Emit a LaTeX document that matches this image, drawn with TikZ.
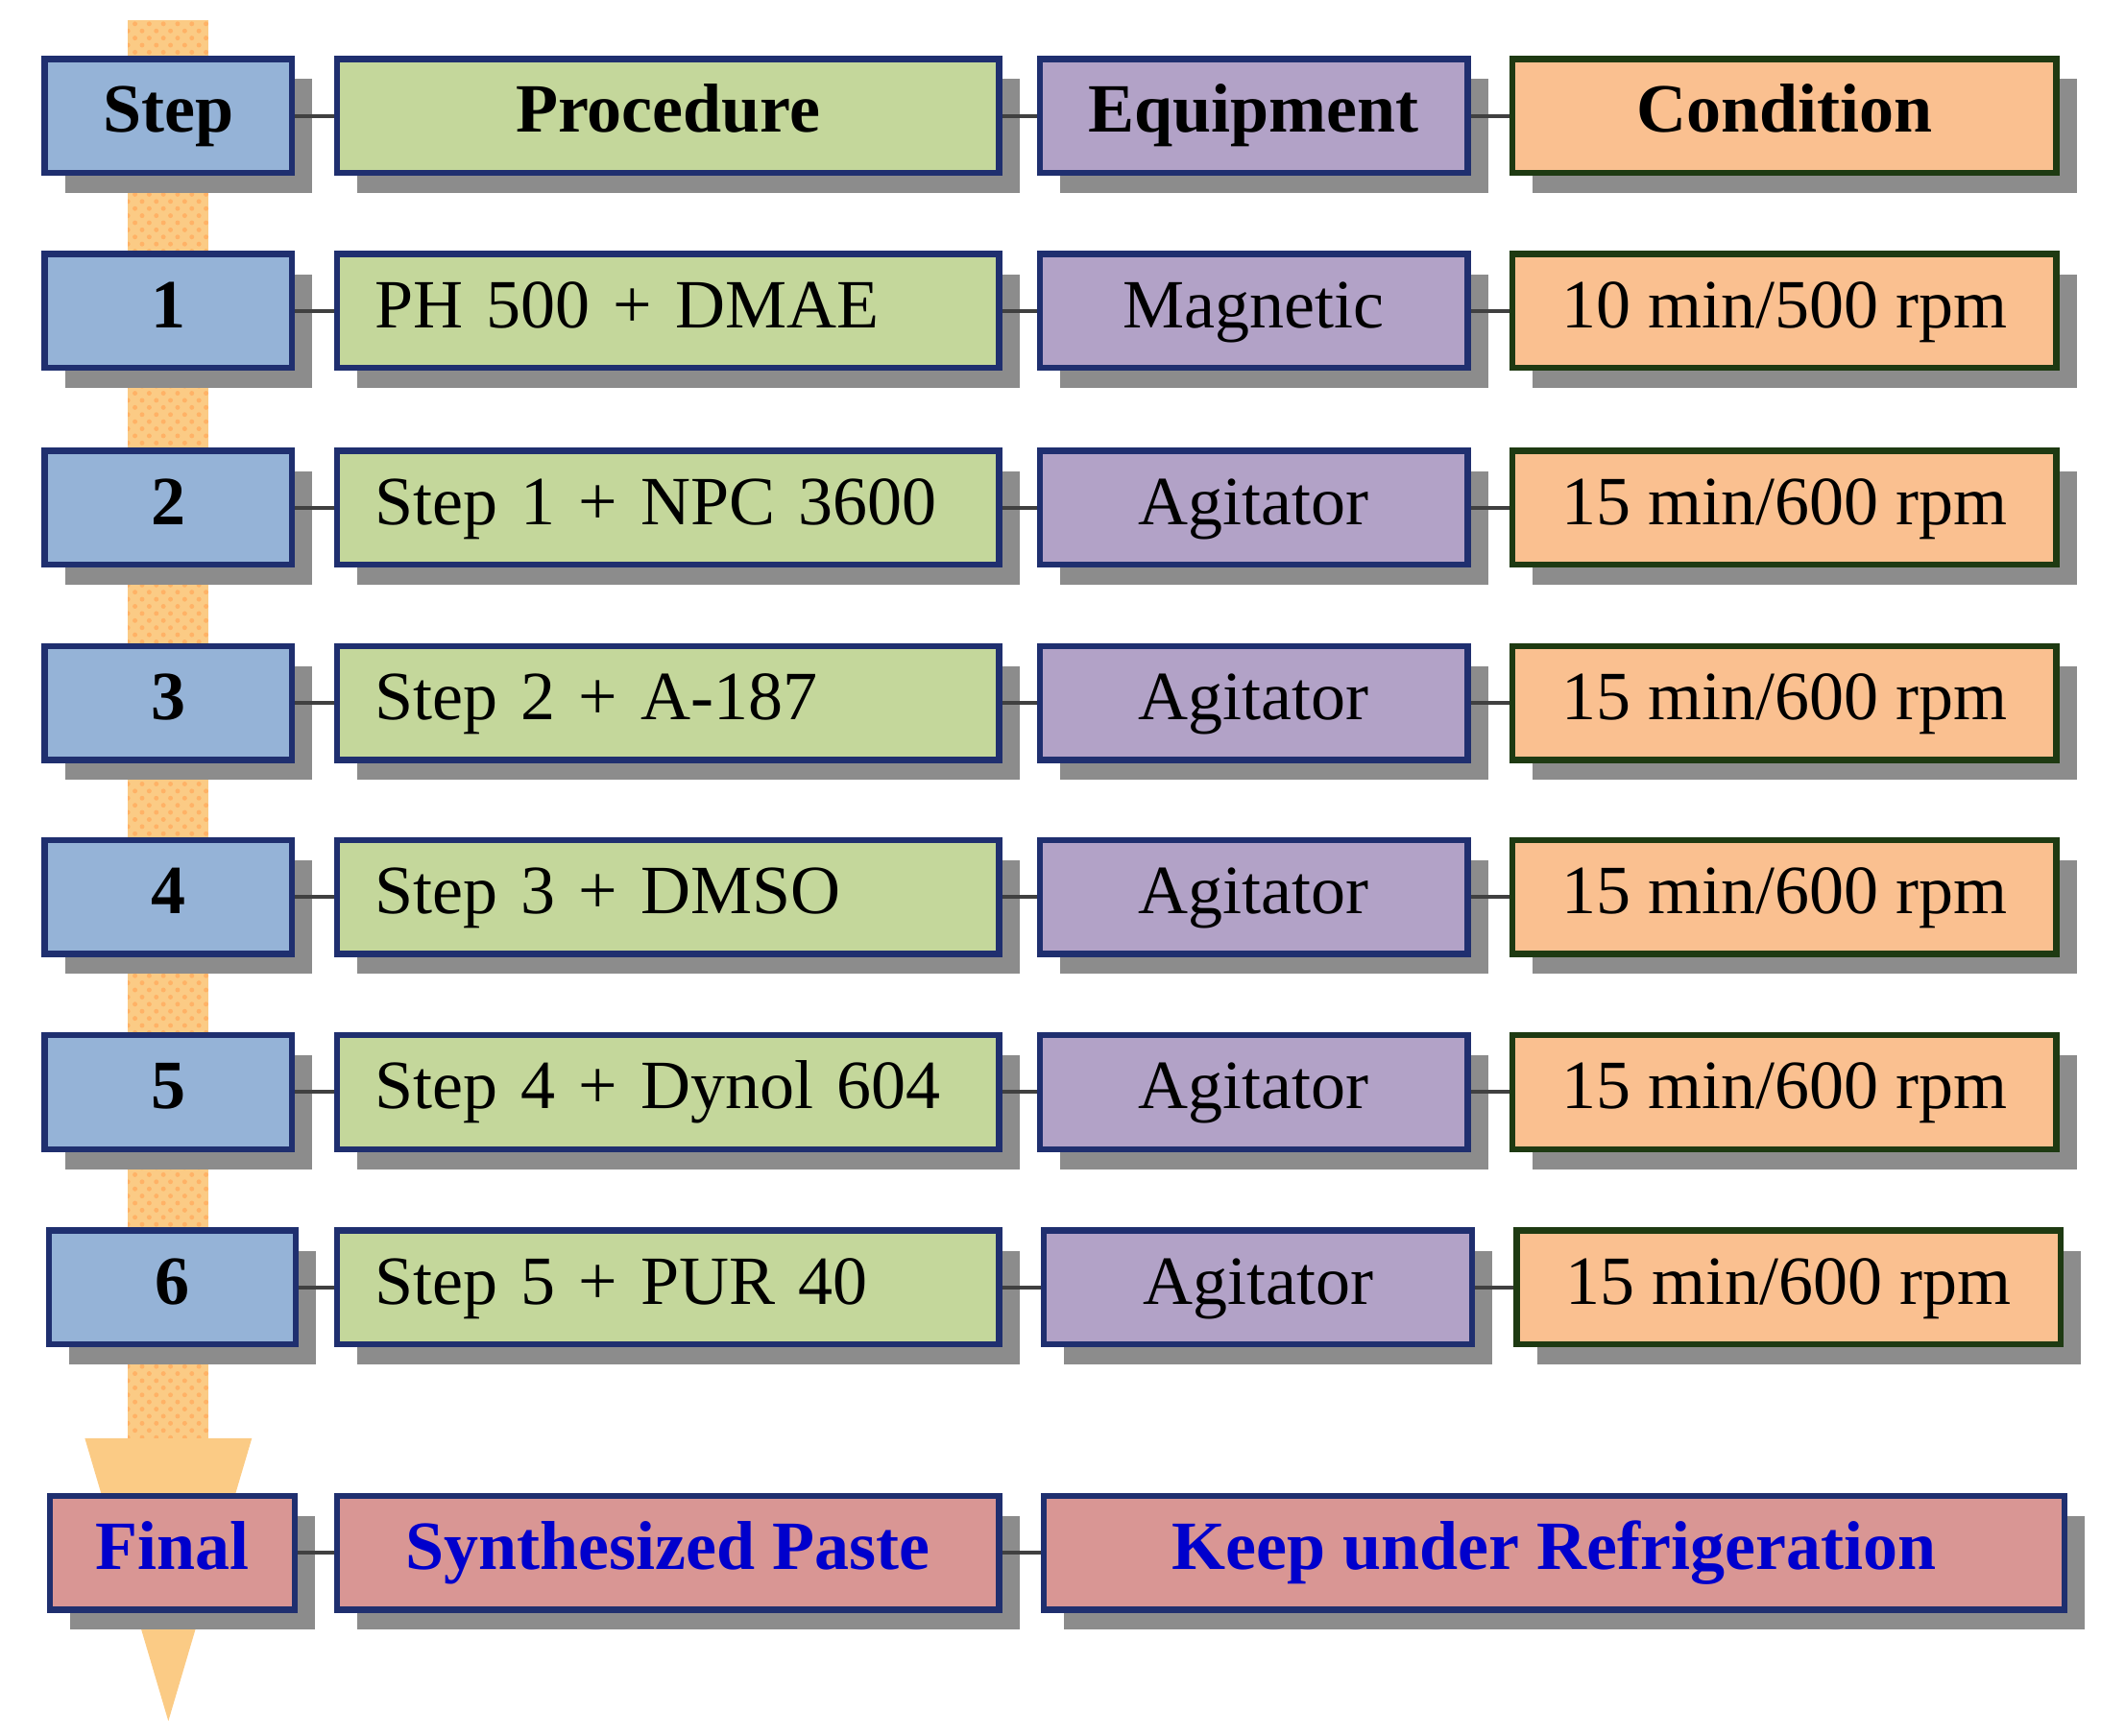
\documentclass[tikz,border=0pt]{standalone}
\usepackage{fontspec}
\setmainfont{Liberation Serif}
\usetikzlibrary{shadows,patterns}
\definecolor{cstep}{HTML}{95B3D7}
\definecolor{cproc}{HTML}{C4D79B}
\definecolor{cequi}{HTML}{B2A2C7}
\definecolor{ccond}{HTML}{FAC090}
\definecolor{cfin}{HTML}{D99694}
\definecolor{bnavy}{HTML}{1F2F6F}
\definecolor{bgreen}{HTML}{1E3A12}
\definecolor{arrowc}{HTML}{FBCB85}
\newcommand{\fsz}{\fontsize{14.6}{16}\selectfont}
\tikzset{
 box/.style={draw=bnavy, line width=1.3pt, minimum height=0.845cm, inner sep=0pt,
   text height=0.8em, text depth=0.1em, font=\fsz,
   drop shadow={shadow xshift=0.15cm, shadow yshift=-0.15cm, fill=black!45, opacity=1}},
 st/.style={box, fill=cstep, minimum width=1.835cm, font=\fsz\bfseries},
 pr/.style={box, fill=cproc, minimum width=4.915cm, text width=4.35cm, align=left},
 eq/.style={box, fill=cequi, minimum width=3.175cm},
 co/.style={box, fill=ccond, draw=bgreen, minimum width=4.035cm},
 fi/.style={box, fill=cfin, text=blue!80!black, font=\fsz\bfseries},
 con/.style={draw=black!75, line width=0.8pt}
}
\begin{document}
\begin{tikzpicture}[x=0.01cm,y=-0.01cm]
\useasboundingbox (0,0) rectangle (1560,1289);
% arrow
\fill[arrowc] (95,15) rectangle (155,1068);
\fill[arrowc] (63,1068) -- (187,1068) -- (125,1278) -- cycle;
\fill[pattern=crosshatch dots, pattern color=orange!60] (95,15) rectangle (155,1068);
% header
\node[st] (sh) at (125,86) {Step};
\node[box, fill=cproc, minimum width=4.915cm, font=\fsz\bfseries] (ph) at (496,86) {Procedure};
\node[box, fill=cequi, minimum width=3.175cm, font=\fsz\bfseries] (eh) at (931,86) {Equipment};
\node[box, fill=ccond, draw=bgreen, minimum width=4.035cm, font=\fsz\bfseries] (ch) at (1325,86) {Condition};
\draw[con] (sh.east)--(ph.west) (ph.east)--(eh.west) (eh.east)--(ch.west);
\foreach \i/\y/\p/\e/\c/\dx in {
 1/231/{PH 500 + DMAE}/Magnetic/{10 min/500 rpm}/0,
 2/377/{Step 1 + NPC 3600}/Agitator/{15 min/600 rpm}/0,
 3/522/{Step 2 + A-187}/Agitator/{15 min/600 rpm}/0,
 4/666/{Step 3 + DMSO}/Agitator/{15 min/600 rpm}/0,
 5/811/{Step 4 + Dynol 604}/Agitator/{15 min/600 rpm}/0,
 6/956/{Step 5 + PUR 40}/Agitator/{15 min/600 rpm}/3}{
 \node[st] (s\i) at (125+\dx,\y) {\i};
 \node[pr] (p\i) at (496,\y) {\p};
 \node[eq] (e\i) at (931+\dx,\y) {\e};
 \node[co] (c\i) at (1325+\dx,\y) {\c};
 \draw[con] (s\i.east)--(p\i.west) (p\i.east)--(e\i.west) (e\i.east)--(c\i.west);
}
\node[fi, minimum width=1.815cm] (f1) at (128,1153) {Final};
\node[fi, minimum width=4.915cm] (f2) at (496,1153) {Synthesized Paste};
\node[fi, minimum width=7.575cm] (f3) at (1154,1153) {Keep under Refrigeration};
\draw[con] (f1.east)--(f2.west) (f2.east)--(f3.west);
\end{tikzpicture}
\end{document}
